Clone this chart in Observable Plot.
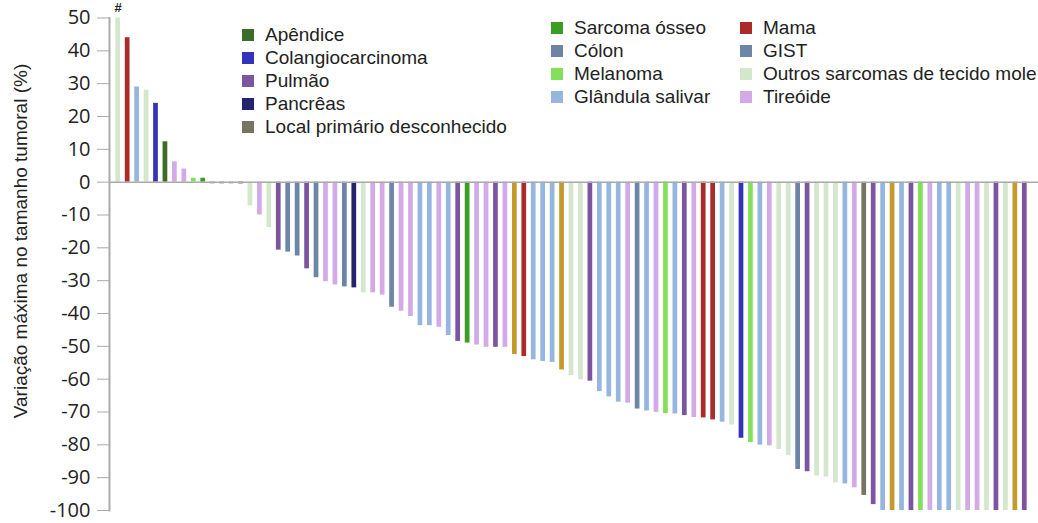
<!DOCTYPE html>
<html>
<head>
<meta charset="utf-8">
<script src="https://cdn.jsdelivr.net/npm/d3@7"></script>
<script src="https://cdn.jsdelivr.net/npm/@observablehq/plot@0.6"></script>
<style>
  body { margin: 0; background: #fff; }
  #wrap { position: relative; width: 1038px; height: 523px; font-family: "Liberation Sans", Arial, sans-serif; color: #222; overflow: hidden; }
  #wrap svg { position: absolute; left: 0; top: 0; overflow: visible; }
  .ytitle { position: absolute; left: 21px; top: 241px; transform: translate(-50%, -50%) rotate(-90deg); white-space: nowrap; font-size: 19px; color: #222; }
  .legcol { position: absolute; }
  .legrow { height: 23px; display: flex; align-items: center; font-size: 19px; white-space: nowrap; }
  .sw { width: 12px; height: 12px; margin-right: 11px; flex: none; }
</style>
</head>
<body>
<div id="wrap"></div>
<script>
// Tumor types (the last one, gold, has no legend entry in the original)
const tumorTypes = [
  "Apêndice", "Colangiocarcinoma", "Pulmão", "Pancrêas", "Local primário desconhecido",
  "Sarcoma ósseo", "Cólon", "Melanoma", "Glândula salivar",
  "Mama", "GIST", "Outros sarcomas de tecido mole", "Tireóide", "Outro"
];
const typeColors = [
  "#3d6b2a", "#3434b8", "#7b55a0", "#24246e", "#77745f",
  "#3b9e22", "#6c84a6", "#84e05a", "#96b6e0",
  "#ab2b2b", "#6e86a6", "#d4e7cc", "#d2aae8", "#c49a2a"
];
const legendColumns = [
  ["Apêndice", "Colangiocarcinoma", "Pulmão", "Pancrêas", "Local primário desconhecido"],
  ["Sarcoma ósseo", "Cólon", "Melanoma", "Glândula salivar"],
  ["Mama", "GIST", "Outros sarcomas de tecido mole", "Tireóide"]
];

// One entry per patient, in waterfall order
const patientType = [
  "Outros sarcomas de tecido mole", "Mama", "Glândula salivar", "Outros sarcomas de tecido mole", "Colangiocarcinoma",
  "Apêndice", "Tireóide", "Tireóide", "Melanoma", "Sarcoma ósseo",
  "Cólon", "Pulmão", "GIST", "Pancrêas", "Outros sarcomas de tecido mole",
  "Tireóide", "Outros sarcomas de tecido mole", "Pulmão", "GIST", "Cólon",
  "Pulmão", "GIST", "Tireóide", "Tireóide", "Cólon",
  "Pancrêas", "Outros sarcomas de tecido mole", "Tireóide", "Tireóide", "GIST",
  "Tireóide", "Tireóide", "Glândula salivar", "Glândula salivar", "Tireóide",
  "Glândula salivar", "Pulmão", "Sarcoma ósseo", "Tireóide", "Tireóide",
  "Pulmão", "Tireóide", "Outro", "Mama", "Glândula salivar",
  "Glândula salivar", "Glândula salivar", "Outro", "Outros sarcomas de tecido mole", "Outros sarcomas de tecido mole",
  "Pulmão", "Glândula salivar", "Glândula salivar", "Glândula salivar", "Tireóide",
  "GIST", "Glândula salivar", "Tireóide", "Melanoma", "Glândula salivar",
  "Pulmão", "Tireóide", "Mama", "Mama", "Glândula salivar",
  "Outros sarcomas de tecido mole", "Colangiocarcinoma", "Melanoma", "Glândula salivar", "Tireóide",
  "Outros sarcomas de tecido mole", "Outros sarcomas de tecido mole", "Cólon", "Pulmão", "Outros sarcomas de tecido mole",
  "Outros sarcomas de tecido mole", "Outros sarcomas de tecido mole", "Glândula salivar", "Tireóide", "Local primário desconhecido",
  "Pulmão", "Glândula salivar", "Outro", "Glândula salivar", "Pulmão",
  "Melanoma", "Tireóide", "Glândula salivar", "Glândula salivar", "Outros sarcomas de tecido mole",
  "Tireóide", "Tireóide", "Outros sarcomas de tecido mole", "Pulmão", "Outros sarcomas de tecido mole",
  "Outro", "Pulmão"
];
const maxChange = [
  50, 44, 29, 28, 24,
  12.3, 6.2, 4, 1.2, 1.2,
  -0.5, -0.5, -0.5, -0.5, -7.2,
  -10, -13.8, -20.7, -21.3, -22.5,
  -26.4, -29.1, -30.3, -31.3, -31.9,
  -32.2, -33.7, -33.7, -34.4, -38.1,
  -39.3, -40.9, -43.7, -43.7, -44.2,
  -46.7, -48.5, -49, -49.6, -50.3,
  -50.3, -50.3, -52.5, -53.1, -54.1,
  -54.6, -54.9, -57.2, -58.9, -60.2,
  -60.6, -63.8, -65.4, -67, -67.3,
  -69.1, -69.7, -70.1, -70.5, -70.6,
  -71.1, -71.7, -71.8, -72.4, -73.1,
  -74, -78, -79.3, -80.1, -80.3,
  -81.4, -83.3, -87.5, -88.2, -89.5,
  -89.8, -91.6, -91.9, -93.1, -95.4,
  -98.2, -100, -100, -100, -100,
  -100, -100, -100, -100, -100,
  -100, -100, -100, -100, -100,
  -100, -100
];
const yTicks = d3.range(-100, 51, 10);
const flags = [{patient: 1, text: "#"}];
const yTitle = "Variação máxima no tamanho tumoral (%)";

const data = maxChange.map((v, i) => ({patient: i + 1, change: v, type: patientType[i]}));

const chart = Plot.plot({
  width: 1038,
  height: 523,
  marginTop: 17.5,
  marginBottom: 13,
  marginLeft: 109,
  marginRight: 0,
  style: {fontFamily: "Liberation Sans, Arial, sans-serif", fontSize: "19px", color: "#222", background: "transparent", overflow: "visible"},
  x: {type: "band", domain: data.map(d => d.patient), range: [113, 1029], paddingInner: 0.5, paddingOuter: 0.25, axis: null},
  y: {domain: [-100, 50], axis: null},
  color: {domain: tumorTypes, range: typeColors},
  marks: [
    Plot.barY(data, {x: "patient", y: "change", fill: "type"}),
    Plot.ruleY([0], {stroke: "#aaa", strokeWidth: 1.5}),
    Plot.axisY({ticks: yTicks, tickFormat: d => String(d), tickSize: 12, tickPadding: 7, fontSize: 20, fontFamily: "Open Sans, Liberation Sans, sans-serif", stroke: "#aaa", fill: "#222", label: null}),
    Plot.frame({anchor: "left", stroke: "#aaa", strokeWidth: 2}),
    Plot.text(flags, {x: "patient", y: d => maxChange[d.patient - 1], text: "text", dy: -10, fontSize: 13, fontWeight: "bold", fill: "#222"})
  ]
});

const wrap = document.getElementById("wrap");
wrap.appendChild(chart);

const t = document.createElement("div");
t.className = "ytitle";
t.textContent = yTitle;
wrap.appendChild(t);

const colPos = [{left: 242, top: 23.5}, {left: 551, top: 16.8}, {left: 740, top: 16.8}];
legendColumns.forEach((col, ci) => {
  const c = document.createElement("div");
  c.className = "legcol";
  c.style.left = colPos[ci].left + "px";
  c.style.top = colPos[ci].top + "px";
  col.forEach(name => {
    const r = document.createElement("div");
    r.className = "legrow";
    const s = document.createElement("span");
    s.className = "sw";
    s.style.background = typeColors[tumorTypes.indexOf(name)];
    const l = document.createElement("span");
    l.textContent = name;
    r.appendChild(s);
    r.appendChild(l);
    c.appendChild(r);
  });
  wrap.appendChild(c);
});
</script>
</body>
</html>
